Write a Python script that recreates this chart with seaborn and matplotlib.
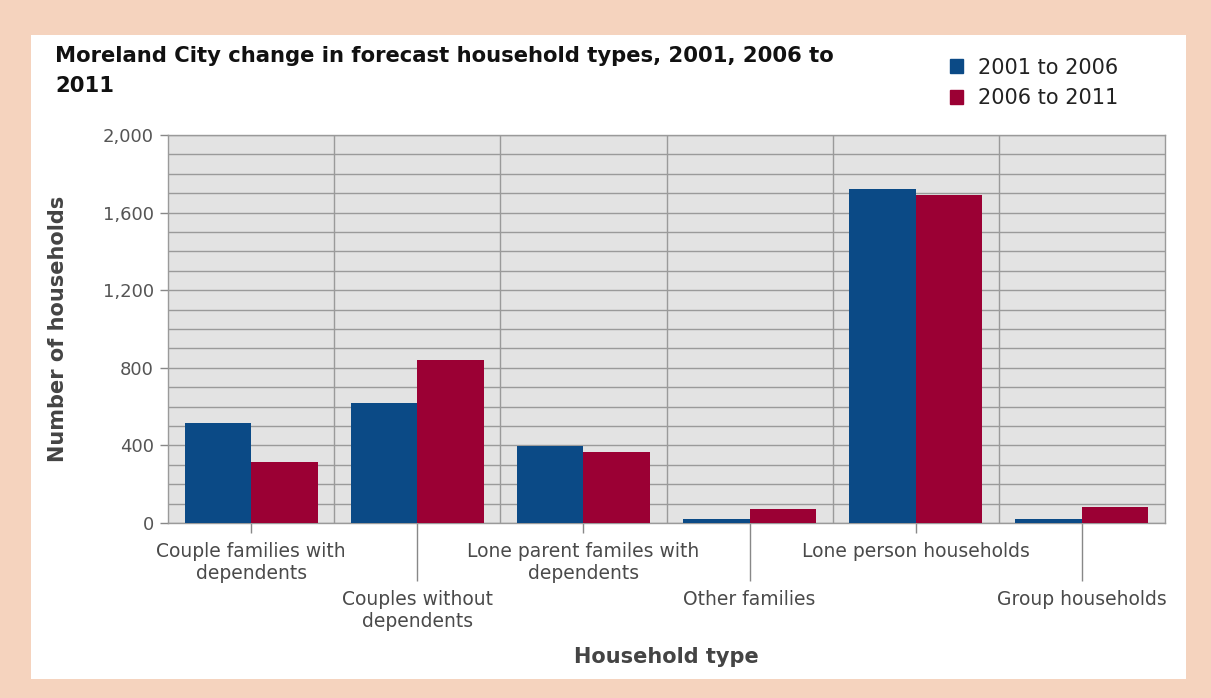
import pandas as pd
import matplotlib
matplotlib.use('Agg')
import matplotlib.pyplot as plt
import matplotlib.patches as mpatches
from matplotlib.ticker import MultipleLocator, FuncFormatter
import seaborn as sns

categories = ['Couple families with\ndependents', 'Couples without\ndependents',
              'Lone parent familes with\ndependents', 'Other families',
              'Lone person households', 'Group households']
periods = ['2001 to 2006', '2006 to 2011']
change_2001_2006 = [515, 620, 395, 20, 1720, 20]
change_2006_2011 = [315, 840, 365, 70, 1690, 80]
y_ticks = [0, 400, 800, 1200, 1600, 2000]

BLUE = '#0B4A86'
RED = '#9B0034'
PINK = '#F5D3BE'

df = pd.DataFrame({
    'type': categories * 2,
    'period': [periods[0]] * 6 + [periods[1]] * 6,
    'households': change_2001_2006 + change_2006_2011,
})

sns.set_style('white')
plt.rcParams['font.family'] = ['DejaVu Sans']

fig = plt.figure(figsize=(12.11, 6.98), dpi=100, facecolor=PINK)
# white card behind everything
fig.patches.append(mpatches.Rectangle((31 / 1211, 1 - 679 / 698), 1155 / 1211, 644 / 698,
                                      transform=fig.transFigure, facecolor='white',
                                      edgecolor='none', zorder=-5))

ax = fig.add_axes([168 / 1211, 1 - 523 / 698, 997 / 1211, 388 / 698])
ax.set_zorder(2)
ax.set_facecolor('#E3E3E3')

sns.barplot(data=df, x='type', y='households', hue='period', order=categories,
            palette=[BLUE, RED], saturation=1, width=0.8, linewidth=0, ax=ax,
            legend=False, zorder=3)

ax.set_ylim(0, 2000)
ax.set_xlim(-0.5, len(categories) - 0.5)
ax.set_yticks(y_ticks)
ax.yaxis.set_major_formatter(FuncFormatter(lambda v, p: f'{int(v):,}'))
ax.yaxis.set_minor_locator(MultipleLocator(100))
ax.grid(axis='y', which='both', color='#9A9A9A', linewidth=1, zorder=1)
ax.set_axisbelow(True)
for b in range(1, len(categories)):
    ax.axvline(b - 0.5, color='#9A9A9A', linewidth=1, zorder=1)

# staggered category labels (tick lengths / pads are in points)
ax.set_xticks([0, 2, 4])
ax.set_xticklabels([categories[i] for i in [0, 2, 4]])
ax.set_xticks([1, 3, 5], minor=True)
ax.set_xticklabels([categories[i] for i in [1, 3, 5]], minor=True)
ax.tick_params(axis='x', which='major', length=7, width=1, color='#888888',
               labelsize=13.5, labelcolor='#4A4A4A', pad=7, bottom=True)
ax.tick_params(axis='x', which='minor', length=42, width=1, color='#888888',
               labelsize=13.5, labelcolor='#4A4A4A', pad=6, bottom=True)
ax.tick_params(axis='y', which='major', length=6, width=1, color='#888888',
               labelsize=13, labelcolor='#555555', left=True, pad=4)
ax.tick_params(axis='y', which='minor', length=0)

for s in ax.spines.values():
    s.set_color('#9A9A9A')
    s.set_linewidth(1)

ax.set_xlabel('Household type', fontsize=15, fontweight='bold', color='#444444', labelpad=12)
ax.set_ylabel('Number of households', fontsize=15, fontweight='bold', color='#444444', labelpad=25)

fig.text(55 / 1211, 1 - 46 / 698,
         'Moreland City change in forecast household types, 2001, 2006 to\n2011',
         fontsize=15.2, fontweight='bold', color='#111111', va='top', ha='left',
         linespacing=1.6)

handles = [mpatches.Patch(color=BLUE, label=periods[0]),
           mpatches.Patch(color=RED, label=periods[1])]
fig.legend(handles=handles, loc='upper left', bbox_to_anchor=(931 / 1211, 1 - 39 / 698),
           frameon=False, fontsize=15, handlelength=0.65, handleheight=0.65,
           handletextpad=0.7, labelspacing=0.5, labelcolor='#222222')

fig.savefig('out.png', dpi=100, facecolor=PINK)
